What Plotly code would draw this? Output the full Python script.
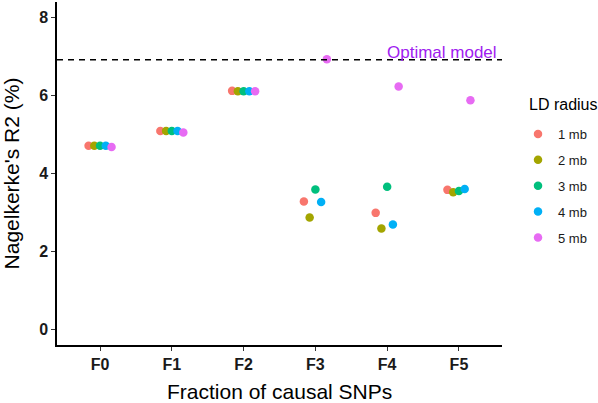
import plotly.graph_objects as go

categories = ["F0", "F1", "F2", "F3", "F4", "F5"]
ld_labels = ["1 mb", "2 mb", "3 mb", "4 mb", "5 mb"]
r2_1mb = [4.71, 5.09, 6.12, 3.28, 2.99, 3.58]
r2_2mb = [4.71, 5.09, 6.11, 2.87, 2.59, 3.52]
r2_3mb = [4.71, 5.09, 6.11, 3.59, 3.66, 3.55]
r2_4mb = [4.71, 5.09, 6.11, 3.27, 2.69, 3.60]
r2_5mb = [4.68, 5.05, 6.11, 6.93, 6.23, 5.88]
series = [r2_1mb, r2_2mb, r2_3mb, r2_4mb, r2_5mb]
colors = ["#F8766D", "#A3A500", "#00BF7D", "#00B0F6", "#E76BF3"]
optimal_value = 6.92
optimal_label = "Optimal model"
legend_title = "LD radius"
x_title = "Fraction of causal SNPs"
y_title = "Nagelkerke's R2 (%)"

font_family = "Liberation Sans, Arial, Helvetica, sans-serif"

fig = go.Figure()
for name, vals, col in zip(ld_labels, series, colors):
    fig.add_trace(go.Scatter(
        x=categories, y=vals, mode="markers", name=name,
        marker=dict(color=col, size=8.5, line=dict(width=0)),
        offsetgroup=name, legendgroup=name,
    ))

fig.add_hline(y=optimal_value, line=dict(color="black", width=1.5, dash="6px,5px"))
fig.add_annotation(x=0.994, y=optimal_value, xref="paper", yref="y", text=optimal_label,
                   showarrow=False, xanchor="right", yanchor="bottom", yshift=-4,
                   font=dict(family=font_family, size=17, color="#A020F0"))
# legend title placed as text above the legend entries
fig.add_annotation(x=1.056, y=0.70, xref="paper", yref="paper", text=legend_title,
                   showarrow=False, xanchor="left", yanchor="middle",
                   font=dict(family=font_family, size=16, color="black"))
# x axis title
fig.add_annotation(x=0.5, y=-0.165, xref="paper", yref="paper", text=x_title,
                   showarrow=False, xanchor="center", yanchor="bottom", yshift=-3,
                   font=dict(family=font_family, size=21, color="black"))

fig.update_layout(
    width=598, height=403,
    margin=dict(l=57, r=96, t=2, b=58, autoexpand=False),
    paper_bgcolor="white", plot_bgcolor="white",
    font=dict(family=font_family, color="black"),
    scattermode="group", scattergap=0.6,
    showlegend=True,
    legend=dict(
        x=1.036, y=0.659, xanchor="left", yanchor="top",
        font=dict(size=13, color="#1a1a1a"),
        tracegroupgap=6,
        bgcolor="rgba(0,0,0,0)",
    ),
    xaxis=dict(
        type="category", range=[-0.6, 5.6],
        showline=True, linecolor="black", linewidth=1.5,
        ticks="outside", ticklen=4, tickcolor="#333333", tickwidth=1,
        tickfont=dict(size=16, color="#1a1a1a", family="Liberation Sans, Arial, sans-serif", weight="bold"),
        showgrid=False, zeroline=False,
    ),
    yaxis=dict(
        range=[-0.4, 8.4], tickvals=[0, 2, 4, 6, 8],
        showline=True, linecolor="black", linewidth=1.5,
        ticks="outside", ticklen=4, tickcolor="#333333", tickwidth=1,
        tickfont=dict(size=16, color="#1a1a1a", family="Liberation Sans, Arial, sans-serif", weight="bold"),
        showgrid=False, zeroline=False,
        title=dict(text=y_title, font=dict(size=21, color="black"), standoff=18),
    ),
)

fig.write_html("out.html", config={"displayModeBar": False},
               post_script="document.body.style.margin='0';")
